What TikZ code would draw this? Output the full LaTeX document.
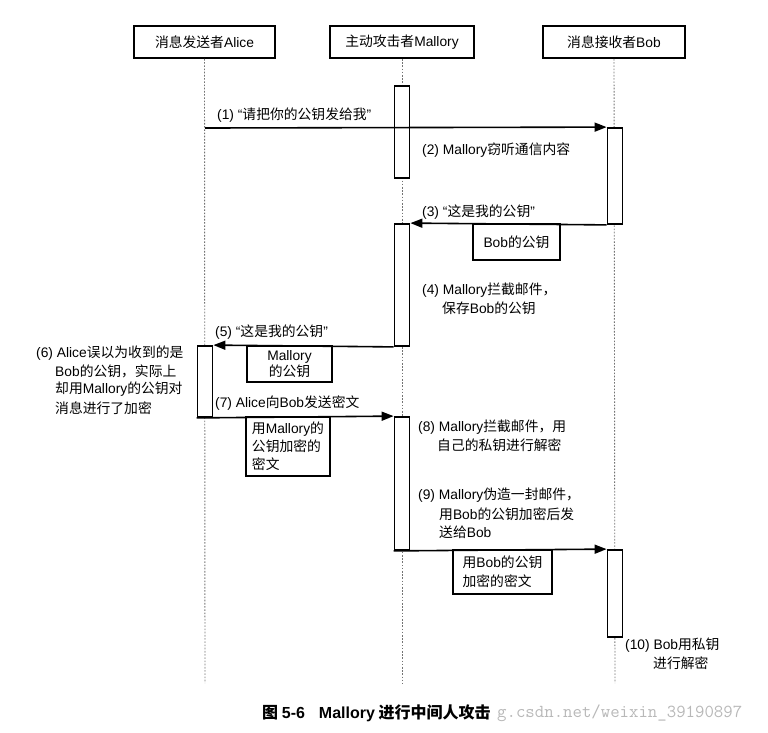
\documentclass[tikz,border=0pt]{standalone}
\usepackage{fontspec}
\setmainfont{Noto Sans CJK SC}
\newfontfamily\latf{Liberation Sans}
\usetikzlibrary{arrows.meta}
\newcommand{\lt}[1]{{\latf #1}}
\begin{document}
\begin{tikzpicture}[x=1pt,y=-1pt,
  every node/.style={font=\fontsize{13.8}{17}\selectfont, inner sep=0pt},
  head/.style={draw, line width=1.8pt, minimum height=32pt},
  act/.style={draw, fill=white, line width=1.8pt, minimum width=15pt},
  msg/.style={draw, line width=1.6pt, -{Triangle[length=12pt,width=9pt]}},
  life/.style={draw=black!55, line width=0.9pt, dash pattern=on 1.6pt off 1.6pt},
  pbox/.style={draw, fill=white, line width=1.6pt},
  lbl/.style={anchor=west}]
\useasboundingbox (0,0) rectangle (768,732);
% headers
\node[head, minimum width=141pt] (alice) at (204.5,42) {消息发送者\lt{Alice}};
\node[head, minimum width=144pt] (mallory) at (402,42) {主动攻击者\lt{Mallory}};
\node[head, minimum width=142pt] (bob) at (614,42) {消息接收者\lt{Bob}};
% lifeline ends
\coordinate (aend) at (205,683);
\coordinate (mend) at (402,683);
\coordinate (bend) at (615,683);
\draw[life] (alice.south) -- (aend);
\draw[life] (mallory.south) -- (mend);
\draw[life] (bob.south) -- (bend);
% activation boxes
\node[act, minimum height=92pt] (mact1) at (402,132) {};
\node[act, minimum height=96pt] (bact1) at (615,176) {};
\node[act, minimum height=122pt] (mact2) at (402,285) {};
\node[act, minimum height=71pt] (aact) at (205,381.5) {};
\node[act, minimum height=133pt] (mact3) at (402,483.5) {};
\node[act, minimum height=87pt] (bact2) at (615,593.5) {};
% payload boxes
\node[pbox, minimum width=87pt, minimum height=36pt] (pb3) at (516.5,242) {\lt{Bob}的公钥};
\node[pbox, minimum width=85pt, minimum height=36pt, align=center, font=\fontsize{13.8}{16}\selectfont] (pb5) at (289.5,364) {\lt{Mallory}\\的公钥};
\node[pbox, minimum width=84pt, minimum height=59pt, align=left, font=\fontsize{13.8}{18}\selectfont] (pb7) at (288,446.5) {用\lt{Mallory}的\\公钥加密的\\密文};
\node[pbox, minimum width=99pt, minimum height=44pt, align=left, font=\fontsize{13.8}{19}\selectfont] (pb9) at (502.5,572) {用\lt{Bob}的公钥\\加密的密文};
% messages
\coordinate (s1) at (205,128);
\draw[msg] (s1) -- (bact1.north west);
\draw[msg] (bact1.south west) -- (mact2.north east);
\draw[msg] (mact2.south west) -- (aact.north east);
\draw[msg] (aact.south west) -- (mact3.north west);
\draw[msg] (mact3.south west) -- (bact2.north west);
% labels
\node[lbl] (l1) at (217,115) {\lt{(1) “}请把你的公钥发给我\lt{”}};
\node[lbl] (l2) at (422,150) {\lt{(2) Mallory}窃听通信内容};
\node[lbl] (l3) at (422,212) {\lt{(3) “}这是我的公钥\lt{”}};
\node[lbl] (l4a) at (422,290) {\lt{(4) Mallory}拦截邮件，};
\node[lbl] (l4b) at (442,308) {保存\lt{Bob}的公钥};
\node[lbl] (l5) at (215,332) {\lt{(5) “}这是我的公钥\lt{”}};
\node[lbl] (l6a) at (36,353) {\lt{(6) Alice}误以为收到的是};
\node[lbl] (l6b) at (55,371) {\lt{Bob}的公钥，实际上};
\node[lbl] (l6c) at (55,389) {却用\lt{Mallory}的公钥对};
\node[lbl] (l6d) at (55,408) {消息进行了加密};
\node[lbl] (l7) at (215,403) {\lt{(7) Alice}向\lt{Bob}发送密文};
\node[lbl] (l8a) at (418,427) {\lt{(8) Mallory}拦截邮件，用};
\node[lbl] (l8b) at (437,445) {自己的私钥进行解密};
\node[lbl] (l9a) at (418,495) {\lt{(9) Mallory}伪造一封邮件，};
\node[lbl] (l9b) at (439,514) {用\lt{Bob}的公钥加密后发};
\node[lbl] (l9c) at (439,532) {送给\lt{Bob}};
\node[lbl] (l10a) at (625,645) {\lt{(10) Bob}用私钥};
\node[lbl] (l10b) at (653,663) {进行解密};
% caption
\node[lbl, text=black!28, font=\ttfamily\fontsize{18.3}{20}\selectfont] (wm) at (497,713) {g.csdn.net/weixin\_39190897};
\node[lbl, font=\bfseries\fontsize{16}{18}\selectfont] (cap) at (262,713) {图 \lt{5-6}\hspace{14pt}\lt{Mallory} 进行中间人攻击};
\end{tikzpicture}
\end{document}
